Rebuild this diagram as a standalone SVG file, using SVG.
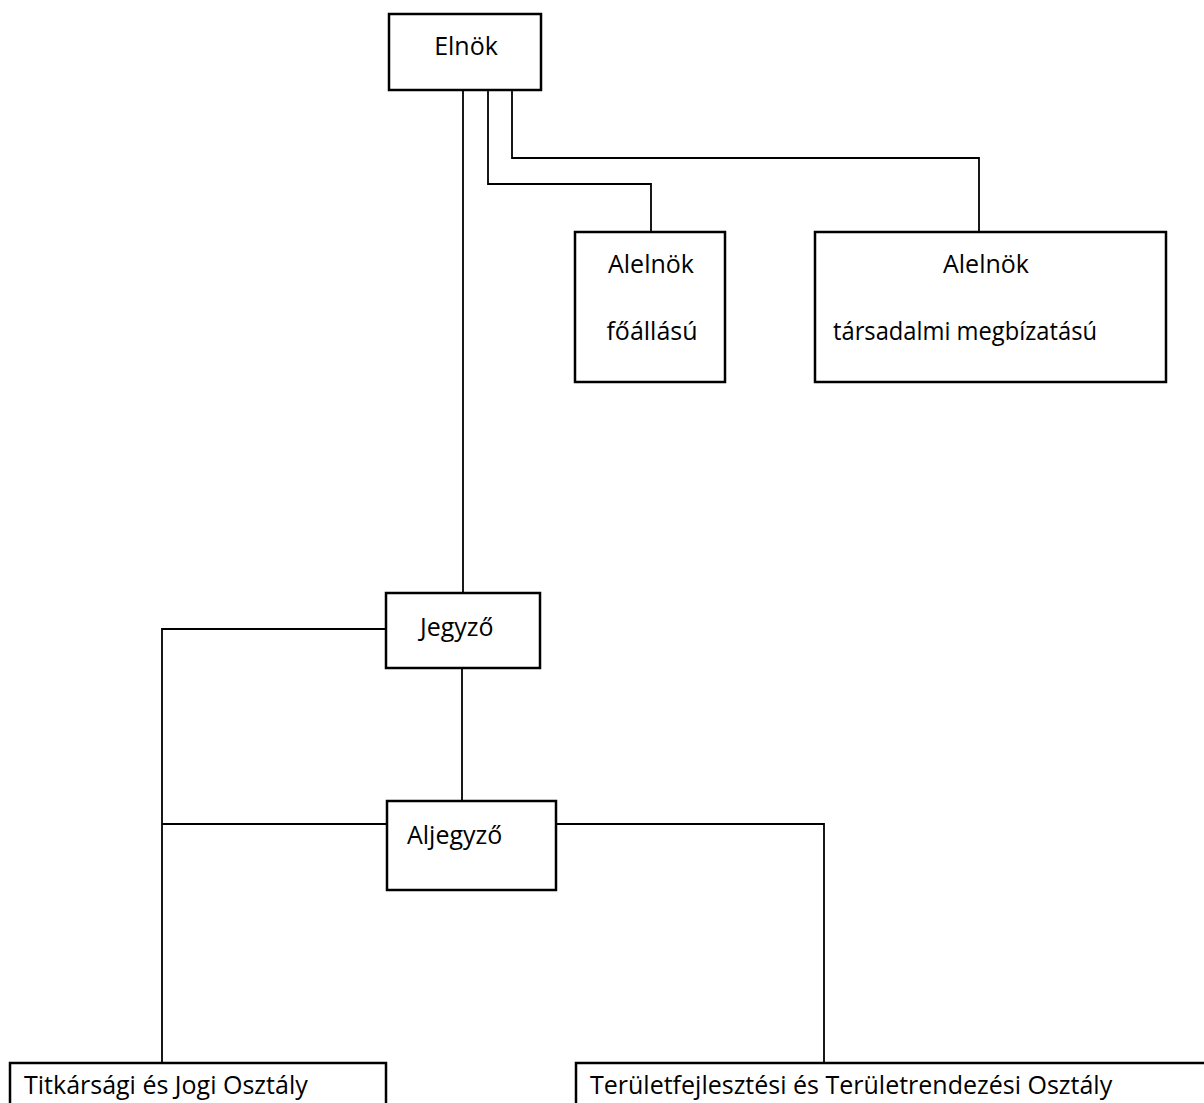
<svg xmlns="http://www.w3.org/2000/svg" width="1204" height="1103" viewBox="0 0 1204 1103">
<style>
.box{fill:#fff;stroke:#000;stroke-width:2.5}
.lbl{font-family:"Open Sans",Lato,"Liberation Sans",sans-serif;font-size:25px;fill:#000}
.c{text-anchor:middle}
.conn{fill:none;stroke:#000;stroke-width:1.8}
</style>
<rect width="1204" height="1103" fill="#fff"/>
<g id="connectors">
<path class="conn" d="M463 90V593"/>
<path class="conn" d="M488 90V184H651V232"/>
<path class="conn" d="M512 90V158H979V232"/>
<path class="conn" d="M386 629H162V1063"/>
<path class="conn" d="M462 668V801"/>
<path class="conn" d="M387 824H162"/>
<path class="conn" d="M556 824H824V1063"/>
</g>
<g id="elnok"><rect class="box" x="389" y="14" width="152" height="76"/><text class="lbl c" x="466" y="55">Elnök</text></g>
<g id="alelnok1"><rect class="box" x="575" y="232" width="150" height="150"/><text class="lbl c" x="651" y="273">Alelnök</text><text class="lbl c" x="652" y="340">főállású</text></g>
<g id="alelnok2"><rect class="box" x="815" y="232" width="351" height="150"/><text class="lbl c" x="986" y="273">Alelnök</text><text class="lbl c" x="965" y="340" textLength="264" lengthAdjust="spacingAndGlyphs">társadalmi megbízatású</text></g>
<g id="jegyzo"><rect class="box" x="386" y="593" width="154" height="75"/><text class="lbl" x="420" y="636">Jegyző</text></g>
<g id="aljegyzo"><rect class="box" x="387" y="801" width="169" height="89"/><text class="lbl" x="407" y="844">Aljegyző</text></g>
<g id="titkarsagi"><rect class="box" x="10" y="1063" width="376" height="60"/><text class="lbl" x="24" y="1094">Titkársági és Jogi Osztály</text></g>
<g id="teruletfejlesztesi"><rect class="box" x="576" y="1063" width="650" height="60"/><text class="lbl" x="590" y="1094">Területfejlesztési és Területrendezési Osztály</text></g>
</svg>
